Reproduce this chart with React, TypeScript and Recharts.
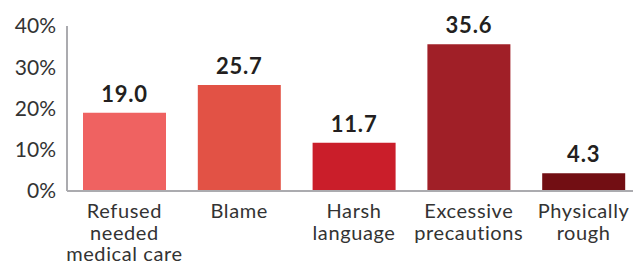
import React from "react";
import { BarChart, Bar, XAxis, YAxis, Cell, LabelList } from "recharts";

const categories = ["Refused needed medical care", "Blame", "Harsh language", "Excessive precautions", "Physically rough"];
const categoryLines = [["Refused", "needed", "medical care"], ["Blame"], ["Harsh", "language"], ["Excessive", "precautions"], ["Physically", "rough"]];
const values = [19.0, 25.7, 11.7, 35.6, 4.3];
const colors = ["#EF6261", "#E25245", "#CA1E2A", "#A01F27", "#720E13"];
const yTicks = [0, 10, 20, 30, 40];

const data = categories.map((c, i) => ({ name: c, value: values[i], idx: i }));

const FONT = "Lato, 'Noto Sans', sans-serif";

const XTick = (props: any) => {
  const { x, y, payload } = props;
  const i = categories.indexOf(payload.value);
  const lines = categoryLines[i] || [payload.value];
  return (
    <text x={x} y={y} textAnchor="middle" fill="#333" fontFamily={FONT} fontSize={20} letterSpacing={0.6}>
      {lines.map((l, k) => (
        <tspan key={k} x={x} dy={k === 0 ? 19 : 21.5}>{l}</tspan>
      ))}
    </text>
  );
};

export default function App() {
  return (
    <div style={{ position: "absolute", left: 0, top: 0, width: 633, height: 262, overflow: "hidden", background: "#fff" }}>
      <BarChart width={650} height={262} data={data} margin={{ top: 26, right: 9, bottom: 0, left: 0 }} barSize={83}>
        <XAxis
          dataKey="name"
          interval={0}
          tickLine={false}
          axisLine={{ stroke: "#ABABAF", strokeWidth: 2 }}
          tick={<XTick />}
          height={71}
        />
        <YAxis
          domain={[0, 40]}
          ticks={yTicks}
          tickFormatter={(v: number) => `${v}%`}
          tickLine={false}
          axisLine={{ stroke: "#ABABAF", strokeWidth: 2 }}
          tick={{ fill: "#333", fontFamily: FONT, fontSize: 21 }}
          tickMargin={5}
          width={67}
        />
        <Bar dataKey="value" isAnimationActive={false}>
          {data.map((d, i) => (
            <Cell key={i} fill={colors[i]} />
          ))}
          <LabelList
            dataKey="value"
            position="top"
            offset={11}
            formatter={(v: number) => v.toFixed(1)}
            style={{ fill: "#231F20", fontFamily: FONT, fontSize: 22, fontWeight: 700, letterSpacing: 0.8 }}
          />
        </Bar>
      </BarChart>
    </div>
  );
}
